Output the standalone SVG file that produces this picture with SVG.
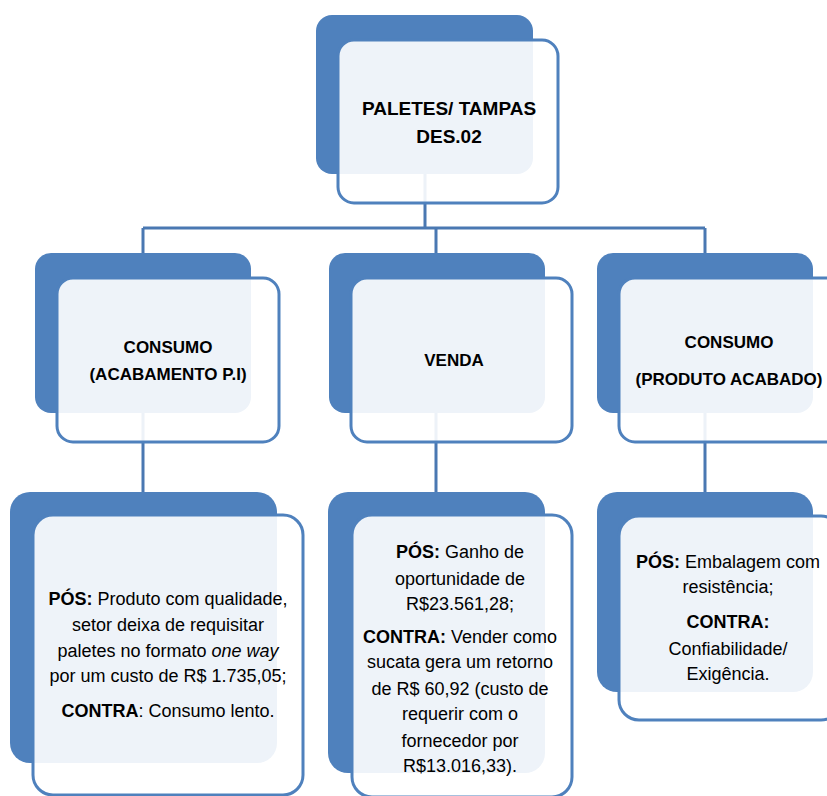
<svg xmlns="http://www.w3.org/2000/svg" width="827" height="796" viewBox="0 0 827 796">
<style>
.back{fill:#4F81BD}
.front{fill:#FFFFFF;fill-opacity:0.9;stroke:#4F81BD;stroke-width:3}
.conn{stroke:#4A78B2;stroke-width:3;fill:none}
text{font-family:"Liberation Sans",Arial,sans-serif;fill:#000;text-anchor:middle}
.t1{font-size:19px;font-weight:bold}
.t2{font-size:17px;font-weight:bold}
.t3{font-size:18px}
.b{font-weight:bold}
</style>
<rect width="827" height="796" fill="#FFFFFF"/>
<g id="connectors">
<path class="conn" d="M425,174 V228 M143,228 H705 M143,228 V253 M436,228 V253 M705,228 V253"/>
<path class="conn" d="M143,413 V492 M436,413 V492 M705,413 V492"/>
</g>
<g id="root">
<rect class="back" x="316" y="15" width="217" height="159" rx="16"/>
<rect class="front" x="338" y="40" width="220" height="163" rx="16"/>
<text class="t1" x="449" y="115">PALETES/ TAMPAS</text>
<text class="t1" x="449" y="143">DES.02</text>
</g>
<g id="consumo-pi">
<rect class="back" x="35" y="253" width="216" height="160" rx="16"/>
<rect class="front" x="57" y="278" width="222" height="164" rx="16"/>
<text class="t2" x="168" y="353">CONSUMO</text>
<text class="t2" x="168" y="380">(ACABAMENTO P.I)</text>
</g>
<g id="venda">
<rect class="back" x="329" y="253" width="216" height="160" rx="16"/>
<rect class="front" x="351" y="278" width="221" height="164" rx="16"/>
<text class="t2" x="454" y="366">VENDA</text>
</g>
<g id="consumo-pa">
<rect class="back" x="597" y="253" width="216" height="160" rx="16"/>
<rect class="front" x="619" y="278" width="222" height="164" rx="16"/>
<text class="t2" x="729" y="348">CONSUMO</text>
<text class="t2" x="729" y="385">(PRODUTO ACABADO)</text>
</g>
<g id="detail-pi">
<rect class="back" x="10" y="492" width="267" height="271" rx="20"/>
<rect class="front" x="33" y="515" width="270" height="280" rx="20"/>
<text class="t3" x="168" y="605"><tspan class="b">PÓS:</tspan> Produto com qualidade,</text>
<text class="t3" x="168" y="631">setor deixa de requisitar</text>
<text class="t3" x="168" y="657">paletes no formato <tspan font-style="italic">one way</tspan></text>
<text class="t3" x="168" y="682">por um custo de R$ 1.735,05;</text>
<text class="t3" x="168" y="717"><tspan class="b">CONTRA</tspan>: Consumo lento.</text>
</g>
<g id="detail-venda">
<rect class="back" x="328" y="492" width="217" height="281" rx="20"/>
<rect class="front" x="352" y="515" width="220" height="282" rx="20"/>
<text class="t3" x="460" y="558"><tspan class="b">PÓS:</tspan> Ganho de</text>
<text class="t3" x="460" y="585">oportunidade de</text>
<text class="t3" x="460" y="610">R$23.561,28;</text>
<text class="t3" x="460" y="643"><tspan class="b">CONTRA:</tspan> Vender como</text>
<text class="t3" x="460" y="668">sucata gera um retorno</text>
<text class="t3" x="460" y="695">de R$ 60,92 (custo de</text>
<text class="t3" x="460" y="720">requerir com o</text>
<text class="t3" x="460" y="747">fornecedor por</text>
<text class="t3" x="460" y="772">R$13.016,33).</text>
</g>
<g id="detail-pa">
<rect class="back" x="597" y="492" width="216" height="200" rx="20"/>
<rect class="front" x="619" y="516" width="222" height="204" rx="20"/>
<text class="t3" x="728" y="568"><tspan class="b">PÓS:</tspan> Embalagem com</text>
<text class="t3" x="728" y="593">resistência;</text>
<text class="t3" x="728" y="628" font-weight="bold">CONTRA:</text>
<text class="t3" x="728" y="655">Confiabilidade/</text>
<text class="t3" x="728" y="680">Exigência.</text>
</g>
</svg>
